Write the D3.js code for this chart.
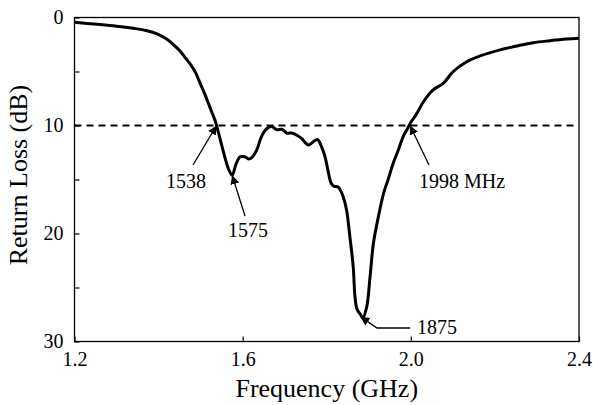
<!DOCTYPE html>
<html><head><meta charset="utf-8">
<script src="https://cdn.jsdelivr.net/npm/d3@7"></script>
<style>
html,body{margin:0;padding:0;background:#fff;}
svg{display:block;}
</style></head>
<body>
<svg id="chart" width="593" height="405"></svg>
<script>
// ---- data ----
const freqGHz = [1.200,1.230,1.261,1.300,1.340,1.370,1.395,1.419,1.435,1.451,1.465,1.475,1.488,1.499,1.510,1.518,1.526,1.534,1.542,1.554,1.566,1.575,1.584,1.594,1.605,1.615,1.621,1.633,1.645,1.657,1.669,1.681,1.693,1.705,1.717,1.729,1.740,1.756,1.768,1.778,1.788,1.796,1.803,1.810,1.816,1.8275,1.839,1.847,1.855,1.863,1.867,1.872,1.880,1.886,1.895,1.903,1.911,1.923,1.935,1.946,1.958,1.970,1.982,1.992,2.000,2.014,2.030,2.053,2.077,2.101,2.133,2.165,2.212,2.252,2.291,2.331,2.371,2.400];
const returnLossDB = [0.45,0.55,0.65,0.8,1.0,1.2,1.5,2.0,2.5,3.1,3.8,4.3,5.1,6.1,7.1,7.9,8.7,9.5,10.6,12.4,14.0,14.6,13.6,12.9,12.9,13.1,13.0,12.3,11.0,10.3,10.1,10.4,10.35,10.7,10.7,10.9,11.2,11.8,11.5,11.3,12.0,12.9,14.2,15.3,15.6,15.7,16.6,17.8,20.3,23.1,25.8,27.0,27.5,27.8,26.8,24.0,20.9,18.4,16.3,15.0,13.5,12.3,11.0,10.3,9.7,8.9,7.8,6.7,6.1,5.0,4.1,3.56,3.0,2.64,2.33,2.15,2.0,1.93];
const xTicks = [1.2,1.6,2.0,2.4];
const xTickLabels = ["1.2","1.6","2.0","2.4"];
const yTicks = [0,5,10,15,20,25,30];
const yTickLabels = ["0","","10","","20","","30"];
const thresholdDB = 10;
// annotations: label, marked point (GHz, dB)
const annLabels = ["1538","1575","1875","1998 MHz"];
const annFreq = [1.538,1.575,1.880,1.998];
const annDB = [10.0,14.6,27.7,10.0];

const FONT = "'Liberation Serif', 'Times New Roman', Times, serif";

// ---- layout ----
const svg = d3.select("#chart");
const L=74.5, T=17.5, R=579, B=341.5;
const x = d3.scaleLinear().domain([1.2,2.4]).range([L,R]);
const y = d3.scaleLinear().domain([0,30]).range([T,B]);

svg.append("defs").append("marker")
  .attr("id","ah").attr("viewBox","0 0 10 10").attr("refX",10).attr("refY",5)
  .attr("markerWidth",9).attr("markerHeight",9).attr("markerUnits","userSpaceOnUse")
  .attr("orient","auto")
  .append("path").attr("d","M0,0 L10,5 L0,10 Z").attr("fill","#000");

// axes
const xAxis = d3.axisBottom(x).tickValues(xTicks)
  .tickFormat((d,i)=>xTickLabels[i]).tickSizeInner(-5).tickSizeOuter(0).tickPadding(10);
const gx = svg.append("g").attr("transform",`translate(0,${B})`).call(xAxis);
gx.select(".domain").remove();

const yAxis = d3.axisLeft(y).tickValues(yTicks)
  .tickFormat((d,i)=>yTickLabels[i]).tickSizeInner(-5).tickSizeOuter(0).tickPadding(11);
const gy = svg.append("g").attr("transform",`translate(${L},0)`).call(yAxis);
gy.select(".domain").remove();
[gx,gy].forEach(g=>{
  g.attr("font-family",null).attr("font-size",null);
  g.selectAll("text").style("font-family",FONT).style("font-size","20px").attr("fill","#000");
});
svg.selectAll(".tick line").attr("stroke","#000").attr("stroke-width",1.2);

// frame
svg.append("rect").attr("x",L).attr("y",T).attr("width",R-L).attr("height",B-T)
  .attr("fill","none").attr("stroke","#000").attr("stroke-width",1.3);

// threshold dashed line
svg.append("line").attr("x1",x(1.2)).attr("x2",x(2.39)).attr("y1",y(thresholdDB)).attr("y2",y(thresholdDB))
  .attr("stroke","#000").attr("stroke-width",2).attr("stroke-dasharray","7,5");

// curve
const data = freqGHz.map((f,i)=>[f,returnLossDB[i]]);
svg.append("path").datum(data)
  .attr("d",d3.line().x(d=>x(d[0])).y(d=>y(d[1])).curve(d3.curveCatmullRom.alpha(0.5)))
  .attr("fill","none").attr("stroke","#000").attr("stroke-width",3).attr("stroke-linejoin","round");

// annotations
const annTextPos = [[166,188],[228,236.5],[417,333.5],[419,188]];
const annTail = [
  [[193,165]],
  [[245,216]],
  [[410,328],[377,328]],
  [[429,165]]
];
annLabels.forEach((lab,i)=>{
  const tip = [x(annFreq[i]), y(annDB[i])];
  const pts = annTail[i].concat([tip]);
  svg.append("path").attr("d","M"+pts.map(p=>p.join(",")).join("L"))
    .attr("fill","none").attr("stroke","#000").attr("stroke-width",1.3).attr("marker-end","url(#ah)");
  svg.append("text").attr("x",annTextPos[i][0]).attr("y",annTextPos[i][1])
    .style("font-family",FONT).style("font-size","20px").text(lab);
});

// axis titles
svg.append("text").attr("x",(L+R)/2).attr("y",397).attr("text-anchor","middle")
  .style("font-family",FONT).style("font-size","26px").text("Frequency (GHz)");
svg.append("text").attr("transform",`translate(27,175) rotate(-90)`)
  .attr("text-anchor","middle").style("font-family",FONT).style("font-size","26px").text("Return Loss (dB)");
</script>
</body></html>
